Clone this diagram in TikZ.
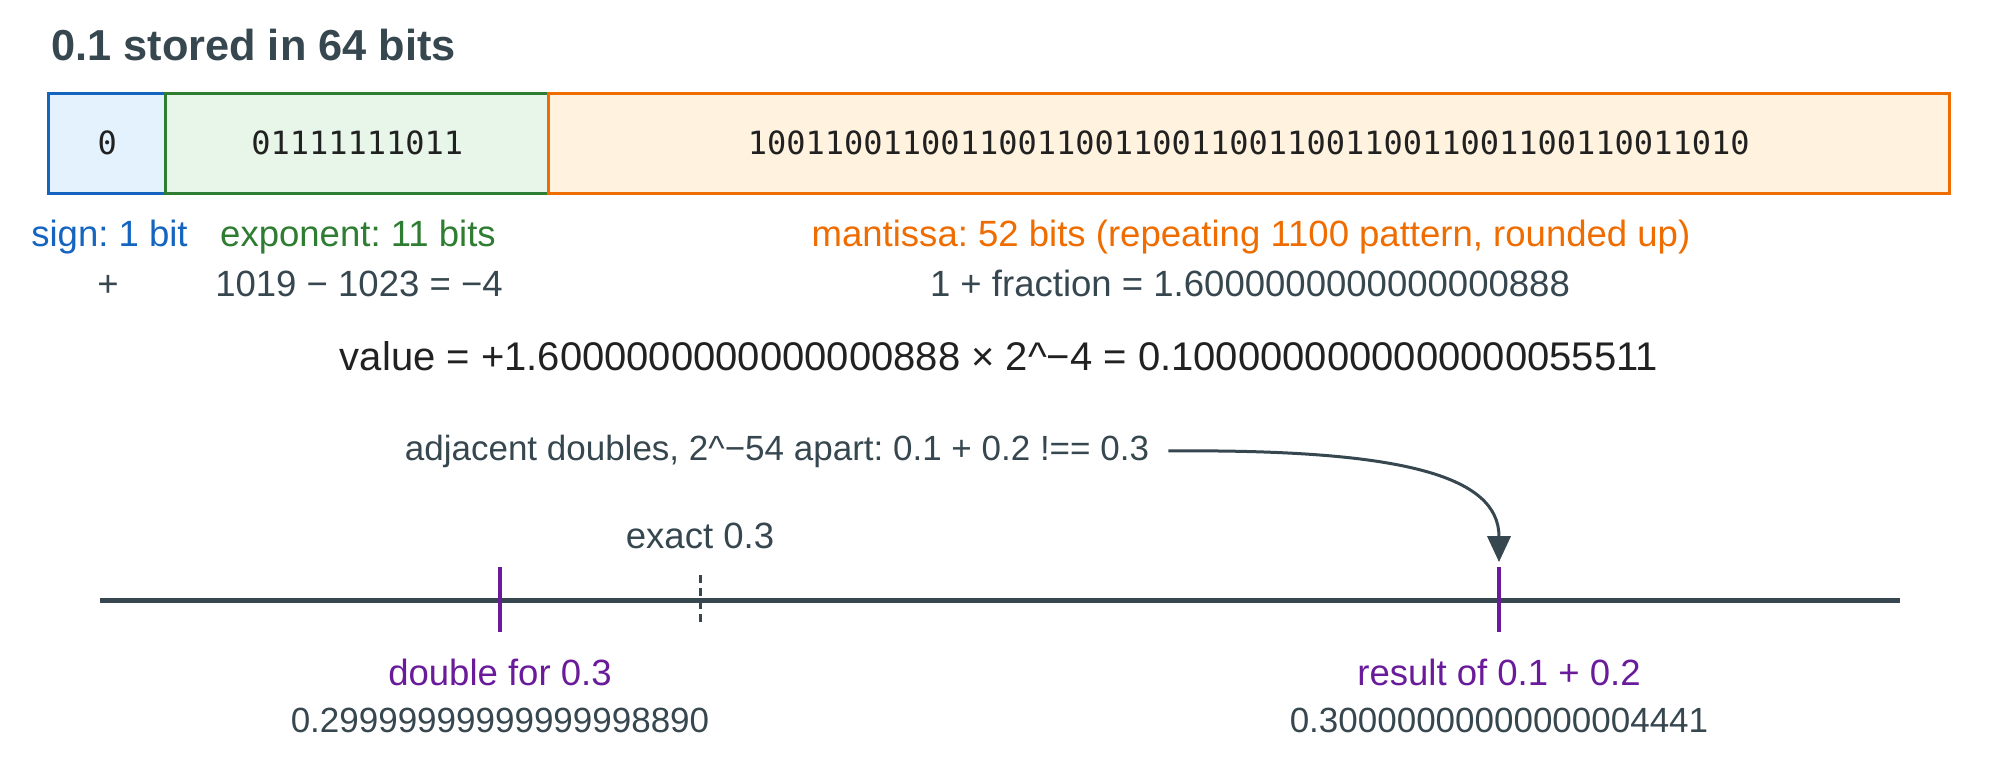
\documentclass[tikz,border=0pt]{standalone}
\usepackage{fontspec}
\setmainfont{Liberation Sans}
\setmonofont{DejaVu Sans Mono}
\usetikzlibrary{arrows.meta}
\frenchspacing

\definecolor{slate}{HTML}{37474F}
\definecolor{ink}{HTML}{212121}
\definecolor{sign edge}{HTML}{1565C0}
\definecolor{sign area}{HTML}{E3F2FD}
\definecolor{exp edge}{HTML}{2E7D32}
\definecolor{exp area}{HTML}{E8F5E9}
\definecolor{man edge}{HTML}{EF6C00}
\definecolor{man area}{HTML}{FFF3E0}
\definecolor{mark purple}{HTML}{6A1B9A}
\tikzset{
  field/.style={draw=#1 edge, fill=#1 area, line width=2.25pt, minimum height=75pt, inner sep=0pt,
    font=\ttfamily\fontsize{24}{24}\selectfont, text=ink},
  caption/.style={inner sep=0pt, anchor=base, font=\fontsize{27.4}{31}\selectfont, text=slate},
  small caption/.style={caption, font=\fontsize{26.25}{30}\selectfont}
  }
\tikzstyle{axis} = [draw, line width=3.75pt, slate]
\tikzstyle{marker} = [draw, line width=3.4pt, mark purple]
\tikzstyle{exact tick} = [draw, line width=2.25pt, slate, dash pattern=on 6pt off 3.75pt]
\tikzstyle{pointer} = [draw, line width=2.25pt, slate, -{Triangle[length=19.5pt, width=17.5pt]}]

\begin{document}
\begin{tikzpicture}[x=0.75pt, y=-0.75pt]
    \useasboundingbox (0,0) rectangle (2000,783);

    \node[inner sep=0pt, anchor=base west, font=\bfseries\fontsize{32.5}{36}\selectfont, text=slate] (title) at (51,60) {0.1 stored in 64 bits};

    % the three fields, drawn left to right so the shared edges take the right colour
    \foreach \name/\x/\w/\bits in {sign/107.25/88.1pt/0, exp/357.25/286.9pt/01111111011,
        man/1248.75/1050.4pt/1001100110011001100110011001100110011001100110011010}
      \node[field=\name, minimum width=\w] (\name) at (\x,143) {\bits};

    \node[caption, text=sign edge] (sign label) at (109.5,246) {sign: 1 bit};
    \node[caption, text=exp edge] (exp label) at (358,246) {exponent: 11 bits};
    \node[caption, text=man edge] (man label) at (1251,246) {mantissa: 52 bits (repeating 1100 pattern, rounded up)};
    \node[caption] (sign value) at (108,296) {+};
    \node[caption] (exp value) at (359,296) {1019 − 1023 = −4};
    \node[caption] (man value) at (1250,296) {1 + fraction = 1.6000000000000000888};

    \node[caption, text=ink, font=\fontsize{30}{34}\selectfont] (value) at (999,370) {value = +1.6000000000000000888 × 2\^{}−4 = 0.1000000000000000055511};

    \node[small caption] (note) at (777,460) {adjacent doubles, 2\^{}−54 apart: 0.1 + 0.2 !== 0.3};

    % number line
    \coordinate (line start) at (99.5,600);
    \coordinate (line end) at (1900,600);
    \coordinate (dbl top) at (500,567);
    \coordinate (dbl bottom) at (500,632);
    \coordinate (exact top) at (700,575);
    \coordinate (exact bottom) at (700,624);
    \coordinate (res top) at (1499,567);
    \coordinate (res bottom) at (1499,632);
    \coordinate (hit) at (1499,562);
    \path[axis] (line start) -- (line end);
    \path[exact tick] (exact top) -- (exact bottom);
    \foreach \source/\sink in {dbl top/dbl bottom, res top/res bottom}
      \path[marker] (\source) -- (\sink);

    \node[caption] (exact label) at (700,548) {exact 0.3};
    \node[caption, text=mark purple] (dbl label) at (500,685) {double for 0.3};
    \node[small caption] (dbl value) at (500,732) {0.29999999999999998890};
    \node[caption, text=mark purple] (res label) at (1499,685) {result of 0.1 + 0.2};
    \node[small caption] (res value) at (1499,732) {0.30000000000000004441};

    \path[pointer] ([xshift=14.25pt]note.east) .. controls (1400,449) and (1499,475) .. (hit);

\end{tikzpicture}
\end{document}
